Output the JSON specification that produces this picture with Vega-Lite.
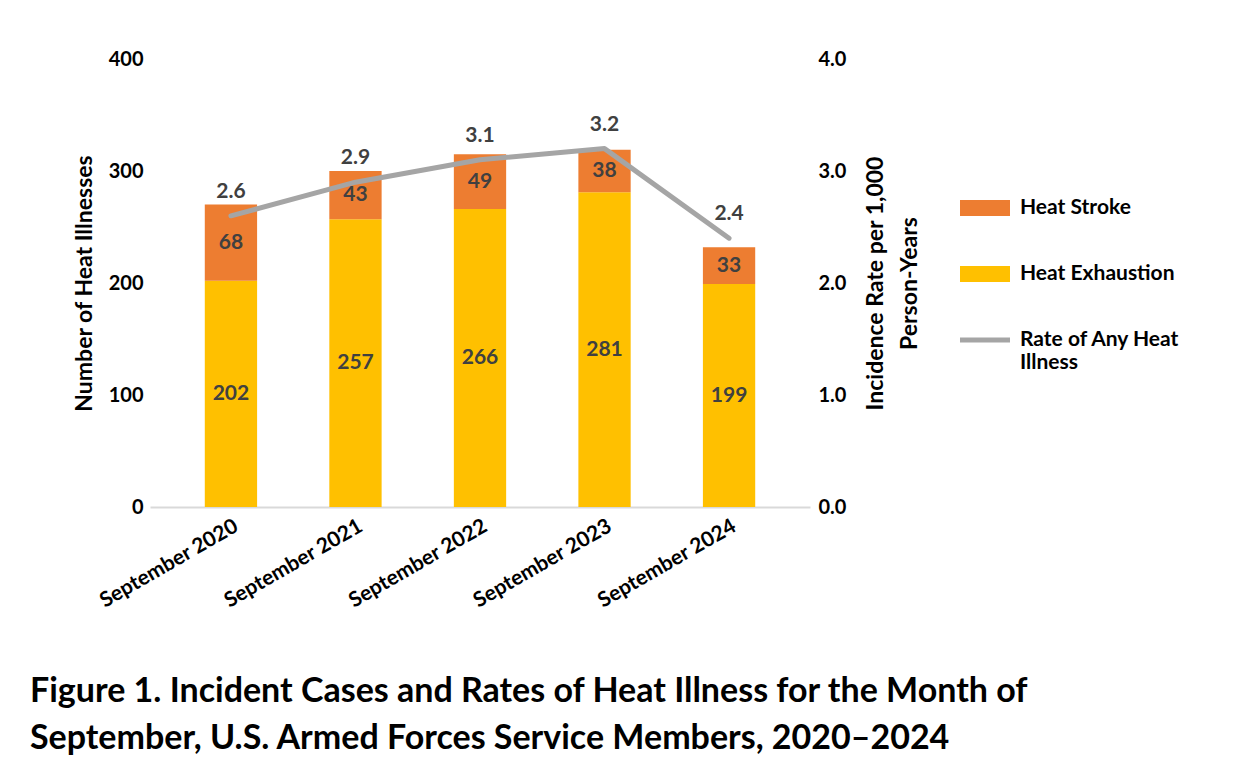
{
  "$schema": "https://vega.github.io/schema/vega-lite/v6.json",
  "autosize": {"type": "none"},
  "padding": {"left": 150, "top": 59, "right": 438, "bottom": 264},
  "width": 660,
  "height": 448,
  "background": "white",
  "config": {
    "font": "Lato",
    "view": {"stroke": null},
    "axis": {"labelFont": "Lato", "labelFontWeight": "bold", "labelColor": "black", "titleFont": "Lato", "titleFontWeight": "bold", "titleColor": "black", "grid": false, "ticks": false}
  },
  "title": {
    "text": ["Figure 1. Incident Cases and Rates of Heat Illness for the Month of", "September, U.S. Armed Forces Service Members, 2020–2024"],
    "orient": "bottom",
    "anchor": "start",
    "frame": "group",
    "dx": -120,
    "offset": 64,
    "fontSize": 34,
    "fontWeight": "bold",
    "font": "Lato",
    "color": "black",
    "lineHeight": 47
  },
  "datasets": {
    "cases": [
      {"month": "September 2020", "series": "Heat Exhaustion", "count": 202},
      {"month": "September 2020", "series": "Heat Stroke", "count": 68},
      {"month": "September 2021", "series": "Heat Exhaustion", "count": 257},
      {"month": "September 2021", "series": "Heat Stroke", "count": 43},
      {"month": "September 2022", "series": "Heat Exhaustion", "count": 266},
      {"month": "September 2022", "series": "Heat Stroke", "count": 49},
      {"month": "September 2023", "series": "Heat Exhaustion", "count": 281},
      {"month": "September 2023", "series": "Heat Stroke", "count": 38},
      {"month": "September 2024", "series": "Heat Exhaustion", "count": 199},
      {"month": "September 2024", "series": "Heat Stroke", "count": 33}
    ],
    "rates": [
      {"month": "September 2020", "rate": 2.6},
      {"month": "September 2021", "rate": 2.9},
      {"month": "September 2022", "rate": 3.1},
      {"month": "September 2023", "rate": 3.2},
      {"month": "September 2024", "rate": 2.4}
    ]
  },
  "encoding": {
    "x": {
      "field": "month", "type": "nominal", "title": null,
      "scale": {"paddingInner": 0.58, "paddingOuter": 0.44},
      "axis": {"labelAngle": -30, "labelFontSize": 21, "labelPadding": 8, "domainColor": "#D9D9D9", "domainWidth": 2}
    }
  },
  "layer": [
    {
      "layer": [
        {
          "data": {"name": "cases"},
          "mark": {"type": "bar"},
          "encoding": {
            "y": {
              "field": "count", "type": "quantitative", "stack": "zero",
              "scale": {"domain": [0, 400]},
              "title": "Number of Heat Illnesses",
              "axis": {"orient": "left", "values": [0, 100, 200, 300, 400], "domain": false, "labelFontSize": 20, "labelPadding": 7, "titleFontSize": 23, "titlePadding": 12}
            },
            "color": {
              "field": "series", "type": "nominal",
              "scale": {"domain": ["Heat Stroke", "Heat Exhaustion", "Rate of Any Heat Illness"], "range": ["#ED7D31", "#FFC000", "#A5A5A5"]},
              "legend": {
                "title": null,
                "orient": "none",
                "legendX": 810,
                "legendY": 124,
                "padding": 0,
                "symbolType": "M-1,-0.32H1V0.32H-1Z",
                "symbolSize": 2500,
                "symbolStrokeWidth": 0,
                "rowPadding": 31,
                "labelFontSize": 21,
                "labelFont": "Lato",
                "labelFontWeight": "bold",
                "labelColor": "black",
                "labelOffset": 10,
                "labelLimit": 300,
                "labelExpr": "datum.label == 'Rate of Any Heat Illness' ? ['Rate of Any Heat', 'Illness'] : datum.label",
                "encode": {
                  "symbols": {"update": {"shape": {"signal": "datum.value == 'Rate of Any Heat Illness' ? 'M-1,-0.1H1V0.1H-1Z' : 'M-1,-0.32H1V0.32H-1Z'"}}}
                }
              }
            },
            "order": {"field": "series", "sort": "ascending"}
          }
        },
        {
          "data": {"name": "cases"},
          "transform": [
            {"stack": "count", "groupby": ["month"], "sort": [{"field": "series", "order": "ascending"}], "as": ["c0", "c1"]},
            {"calculate": "(datum.c0 + datum.c1) / 2", "as": "cmid"}
          ],
          "mark": {"type": "text", "fontSize": 21, "fontWeight": "bold", "color": "#404040", "font": "Lato"},
          "encoding": {
            "y": {"field": "cmid", "type": "quantitative", "scale": {"domain": [0, 400]}, "title": "Number of Heat Illnesses"},
            "text": {"field": "count", "type": "quantitative"}
          }
        }
      ]
    },
    {
      "layer": [
        {
          "data": {"name": "rates"},
          "mark": {"type": "line", "strokeWidth": 5, "strokeCap": "round", "strokeJoin": "round"},
          "encoding": {
            "y": {
              "field": "rate", "type": "quantitative",
              "scale": {"domain": [0, 4]},
              "title": ["Incidence  Rate per 1,000", "Person-Years"],
              "axis": {"orient": "right", "values": [0, 1, 2, 3, 4], "format": ".1f", "domain": false, "labelFontSize": 20, "labelPadding": 8, "titleFontSize": 23, "titleAngle": 270, "titlePadding": 8, "titleLineHeight": 34, "titleBaseline": "bottom"}
            },
            "color": {"datum": "Rate of Any Heat Illness"}
          }
        },
        {
          "data": {"name": "rates"},
          "mark": {"type": "text", "dy": -24, "fontSize": 21, "fontWeight": "bold", "color": "#404040", "font": "Lato"},
          "encoding": {
            "y": {"field": "rate", "type": "quantitative", "scale": {"domain": [0, 4]}, "title": ["Incidence  Rate per 1,000", "Person-Years"]},
            "text": {"field": "rate", "type": "quantitative", "format": ".1f"}
          }
        }
      ]
    }
  ],
  "resolve": {"scale": {"y": "independent"}}
}
